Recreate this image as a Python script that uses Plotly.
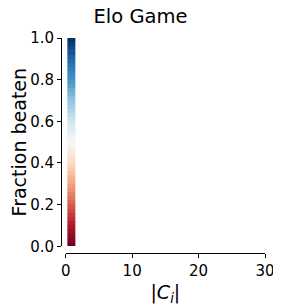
import plotly.graph_objects as go

# Data
title_text = "Elo Game"
cluster_size_edges = [0.25, 1.45]          # x extent of the single column (|C_i| ~ 1)
fraction_edges = [0.00, 0.02, 0.04, 0.06, 0.08, 0.10, 0.12, 0.14, 0.16, 0.18,
                  0.20, 0.22, 0.24, 0.26, 0.28, 0.30, 0.32, 0.34, 0.36, 0.38,
                  0.40, 0.42, 0.44, 0.46, 0.48, 0.50, 0.52, 0.54, 0.56, 0.58,
                  0.60, 0.62, 0.64, 0.66, 0.68, 0.70, 0.72, 0.74, 0.76, 0.78,
                  0.80, 0.82, 0.84, 0.86, 0.88, 0.90, 0.92, 0.94, 0.96, 0.98, 1.00]
x_ticks = [0, 10, 20, 30]
y_ticks = [0.0, 0.2, 0.4, 0.6, 0.8, 1.0]

rdbu = ['rgb(103,0,31)', 'rgb(178,24,43)', 'rgb(214,96,77)', 'rgb(244,165,130)',
        'rgb(253,219,199)', 'rgb(247,247,247)', 'rgb(209,229,240)', 'rgb(146,197,222)',
        'rgb(67,147,195)', 'rgb(33,102,172)', 'rgb(5,48,97)']
colorscale = [[i / (len(rdbu) - 1), c] for i, c in enumerate(rdbu)]

z_vals = [[(fraction_edges[i] + fraction_edges[i + 1]) / 2] for i in range(len(fraction_edges) - 1)]

fig = go.Figure(go.Heatmap(
    x=cluster_size_edges, y=fraction_edges, z=z_vals,
    colorscale=colorscale, zmin=0, zmax=1, showscale=False, hoverinfo="skip"))

# page has an 8px body margin, so the figure is 8px smaller and shifted
OFF = 8
W, H = 281 - OFF, 307 - OFF
l, r = 61 - OFF, 16
t, b = 37.6 - OFF, 54.3
pw = W - l - r
ph = H - t - b
font = "DejaVu Sans"

fig.update_layout(
    width=W, height=H,
    margin=dict(l=l, r=r, t=t, b=b, pad=0, autoexpand=False),
    paper_bgcolor="white", plot_bgcolor="white",
    font=dict(family=font, color="black", size=15),
    title=dict(text=title_text, x=(140.5 - OFF) / W, xref="container", xanchor="center",
               y=1 - (16.5 - OFF) / H, yref="container", yanchor="middle",
               font=dict(size=19.5, family=font, color="black")),
    xaxis=dict(range=[0, 30], domain=[(65.7 - 61) / pw, 1], anchor="free", position=0,
               automargin=False,
               tickvals=x_ticks, ticks="outside", ticklen=4, tickwidth=1, tickcolor="black",
               showline=True, linecolor="black", linewidth=1, showgrid=False, zeroline=False,
               tickfont=dict(size=15),
               title=dict(text="|<i>C<sub>i</sub></i>|", font=dict(size=19), standoff=6)),
    yaxis=dict(range=[0, 1], domain=[(252.7 - 246) / ph, 1], anchor="free", position=0,
               automargin=False,
               tickvals=y_ticks, tickformat=".1f", ticks="outside", ticklen=4, tickwidth=1,
               tickcolor="black", showline=True, linecolor="black", linewidth=1,
               showgrid=False, zeroline=False, tickfont=dict(size=15),
               title=dict(text="Fraction beaten", font=dict(size=19), standoff=0)),
)

fig.write_html("out.html")
